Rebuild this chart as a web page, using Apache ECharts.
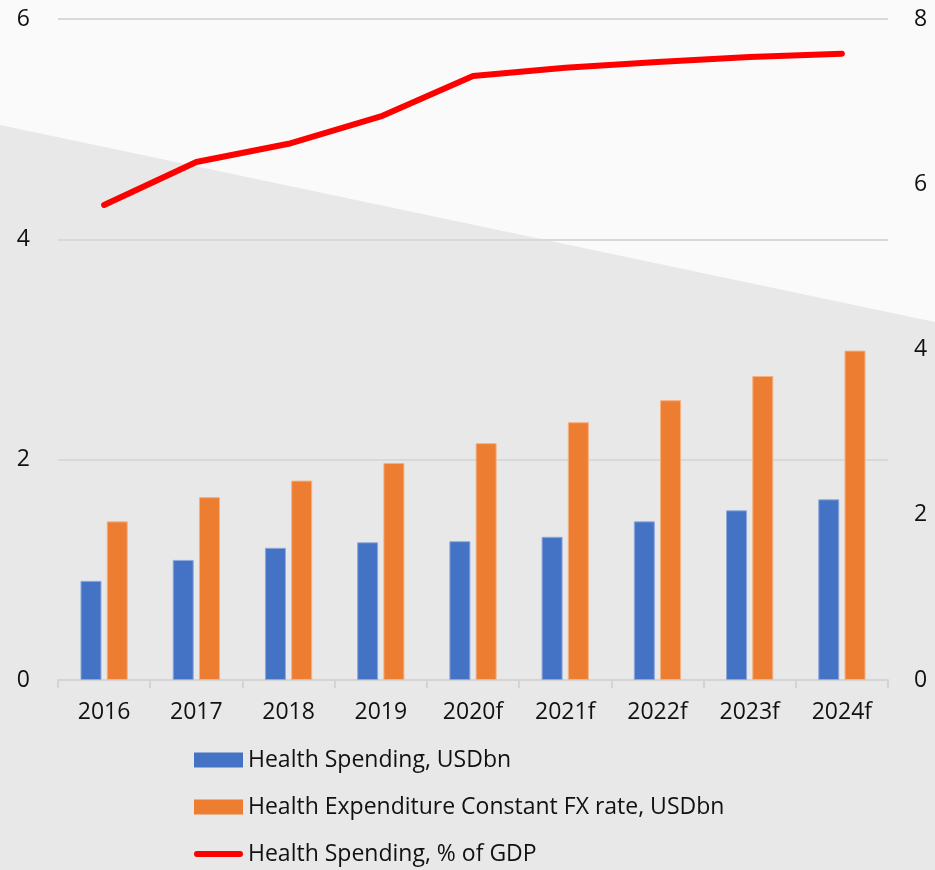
<!DOCTYPE html>
<html>
<head>
<meta charset="utf-8">
<script src="https://cdn.jsdelivr.net/npm/echarts@6/dist/echarts.min.js"></script>
<style>
  html, body { margin: 0; padding: 0; background: #fafafa; }
  #chart { width: 935px; height: 870px; }
</style>
</head>
<body>
<div id="chart"></div>
<script>
// categories and values
const years = ['2016', '2017', '2018', '2019', '2020f', '2021f', '2022f', '2023f', '2024f'];
const spendingUsd = [0.90, 1.09, 1.20, 1.25, 1.26, 1.30, 1.44, 1.54, 1.64];
const constantFx = [1.44, 1.66, 1.81, 1.97, 2.15, 2.34, 2.54, 2.76, 2.99];
const pctGdp = [5.75, 6.27, 6.49, 6.82, 7.31, 7.41, 7.48, 7.54, 7.58];

const FONT = '"Open Sans", "Noto Sans", sans-serif';
// thick rounded line for the legend, padded to the full 49x15 icon box
const LINE_ICON = 'path://M0,0M0,15M2.5,4.5H46.5A3,3,0,0,1,46.5,10.5H2.5A3,3,0,0,1,2.5,4.5Z';

const chart = echarts.init(document.getElementById('chart'));

chart.setOption({
  animation: false,
  backgroundColor: '#fafafa',
  // grey diagonal band behind the plot
  graphic: [{
    type: 'polygon',
    z: -10,
    silent: true,
    shape: { points: [[0, 125], [935, 322], [935, 870], [0, 870]] },
    style: { fill: '#e8e8e8' }
  }],
  grid: { left: 58, right: 47, top: 19, bottom: 190 },
  legend: {
    orient: 'vertical',
    left: 194,
    top: 748,
    padding: 0,
    itemWidth: 49,
    itemHeight: 15,
    itemGap: 23,
    textStyle: { fontFamily: FONT, fontSize: 23, color: '#111', lineHeight: 24 },
    data: [
      { name: 'Health Spending, USDbn', icon: 'rect', itemStyle: { borderWidth: 0 } },
      { name: 'Health Expenditure Constant FX rate, USDbn', icon: 'rect', itemStyle: { borderWidth: 0 } },
      { name: 'Health Spending, % of GDP', icon: LINE_ICON, itemStyle: { color: '#ff0000', borderWidth: 0 } }
    ]
  },
  xAxis: {
    type: 'category',
    data: years,
    axisLine: { lineStyle: { color: '#d4d4d4', width: 2 } },
    axisTick: { show: true, length: 8, lineStyle: { color: '#d4d4d4', width: 2 } },
    axisLabel: { fontFamily: FONT, fontSize: 23, color: '#111', margin: 21 }
  },
  yAxis: [{
    type: 'value',
    min: 0, max: 6, interval: 2,
    axisLabel: { fontFamily: FONT, fontSize: 23, color: '#111', margin: 28 },
    splitLine: { lineStyle: { color: '#d9d9d9', width: 2 } },
    axisLine: { show: false },
    axisTick: { show: false }
  }, {
    type: 'value',
    min: 0, max: 8, interval: 2,
    axisLabel: { fontFamily: FONT, fontSize: 23, color: '#111', margin: 26 },
    splitLine: { show: false },
    axisLine: { show: false },
    axisTick: { show: false }
  }],
  series: [{
    name: 'Health Spending, USDbn',
    type: 'bar',
    data: spendingUsd,
    barWidth: 21,
    barGap: '25%',
    itemStyle: { color: '#4472c4', borderColor: '#8fa9dc', borderWidth: 1 }
  }, {
    name: 'Health Expenditure Constant FX rate, USDbn',
    type: 'bar',
    data: constantFx,
    barWidth: 21,
    barGap: '25%',
    itemStyle: { color: '#ed7d31', borderColor: '#f4b183', borderWidth: 1 }
  }, {
    name: 'Health Spending, % of GDP',
    type: 'line',
    yAxisIndex: 1,
    data: pctGdp,
    symbol: 'none',
    lineStyle: { color: '#ff0000', width: 6, cap: 'round', join: 'round' },
    itemStyle: { color: '#ff0000' }
  }]
});
</script>
</body>
</html>
